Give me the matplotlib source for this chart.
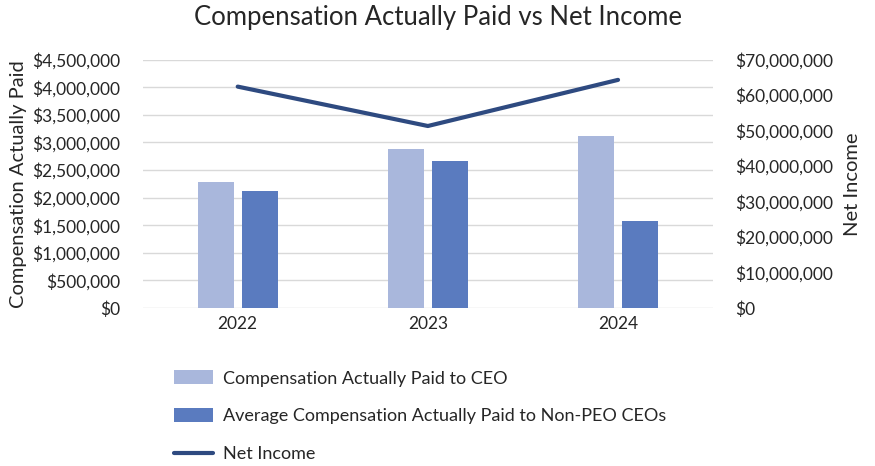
import numpy as np
import matplotlib.pyplot as plt
from matplotlib.ticker import FuncFormatter

plt.rcParams['font.family'] = ['Lato', 'DejaVu Sans']

years = ['2022', '2023', '2024']
cap_ceo = [2290000, 2890000, 3120000]
cap_non_peo = [2120000, 2660000, 1580000]
net_income = [62400000, 51300000, 64300000]

c_light = '#A9B7DC'
c_dark = '#5A7BBF'
c_line = '#2E4A80'
grid_c = '#D9D9D9'
txt_c = '#262626'

fig = plt.figure(figsize=(8.75, 4.66), dpi=100)
ax = fig.add_axes([0.163, 0.339, 0.652, 0.533])
ax2 = ax.twinx()

x = np.arange(len(years))
w = 0.19
ax.bar(x - 0.115, cap_ceo, w, color=c_light, label='Compensation Actually Paid to CEO', zorder=3)
ax.bar(x + 0.115, cap_non_peo, w, color=c_dark,
       label='Average Compensation Actually Paid to Non-PEO CEOs', zorder=3)
ax2.plot(x, net_income, color=c_line, lw=3, label='Net Income', solid_capstyle='round')

ax.set_xlim(-0.5, 2.5)
ax.set_ylim(0, 4500000)
ax.set_yticks(np.arange(0, 4500001, 500000))
ax2.set_ylim(0, 70000000)
ax2.set_yticks(np.arange(0, 70000001, 10000000))

money = FuncFormatter(lambda v, p: '${:,.0f}'.format(v))
ax.yaxis.set_major_formatter(money)
ax2.yaxis.set_major_formatter(money)
ax.set_xticks(x)
ax.set_xticklabels(years)

ax.grid(axis='y', color=grid_c, lw=1, zorder=0)
for a in (ax, ax2):
    for s in a.spines.values():
        s.set_visible(False)
    a.tick_params(length=0, labelsize=12.5, colors=txt_c, pad=16)
ax.tick_params(axis='x', pad=6)

ax.set_ylabel('Compensation Actually Paid', fontsize=14.5, color=txt_c, labelpad=4)
ax2.set_ylabel('Net Income', fontsize=14.5, color=txt_c, labelpad=8)
fig.suptitle('Compensation Actually Paid vs Net Income', fontsize=18.5, color=txt_c, y=0.99)

h1, l1 = ax.get_legend_handles_labels()
h2, l2 = ax2.get_legend_handles_labels()
fig.legend(h1 + h2, l1 + l2, loc='upper left', bbox_to_anchor=(0.18, 0.24),
           frameon=False, fontsize=13, handlelength=2.2, handleheight=0.8,
           labelspacing=1.2, handletextpad=0.55, labelcolor=txt_c)

fig.savefig('out.png', dpi=100)
